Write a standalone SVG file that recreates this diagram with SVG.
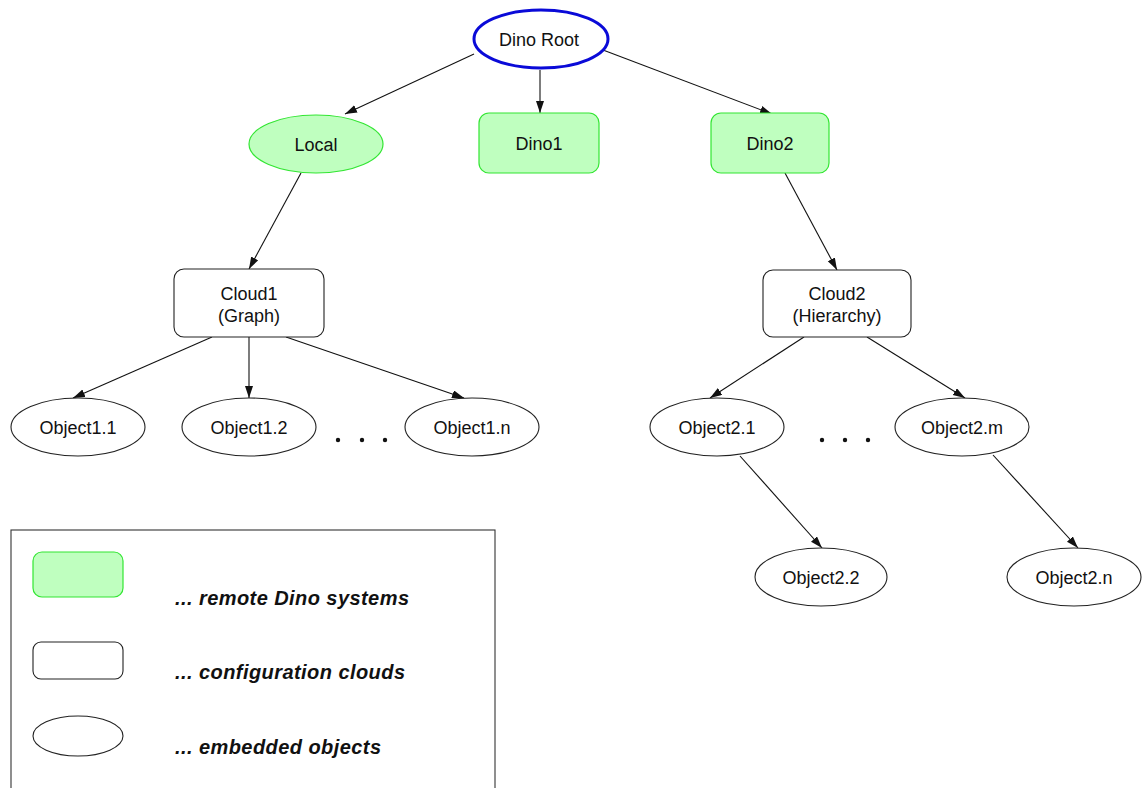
<svg xmlns="http://www.w3.org/2000/svg" width="1144" height="788" viewBox="0 0 1144 788">
  <style>
    .lbl { font-family: "Liberation Sans", Arial, sans-serif; font-size: 18px; fill: #111; text-anchor: middle; }
    .leg { font-family: "Liberation Sans", Arial, sans-serif; font-size: 20px; font-weight: bold; font-style: italic; fill: #111; }
    .remote { fill: #bfffbf; stroke: #33e633; stroke-width: 1.2; }
    .cloud { fill: #ffffff; stroke: #222; stroke-width: 1.1; }
    .obj { fill: #ffffff; stroke: #222; stroke-width: 1.1; }
    .root { fill: #ffffff; stroke: #0a0ad8; stroke-width: 3; }
    .edge { stroke: #111; stroke-width: 1.1; fill: none; marker-end: url(#arrow); }
    .dot { fill: #111; }
  </style>
  <defs>
    <marker id="arrow" markerUnits="userSpaceOnUse" markerWidth="13" markerHeight="9" refX="12" refY="4" orient="auto">
      <path d="M0,0 L12,4 L0,8 z" fill="#111"/>
    </marker>
  </defs>
  <rect width="1144" height="788" fill="#ffffff"/>

  <g id="connectors">
    <line class="edge" x1="474" y1="54" x2="345" y2="114"/>
    <line class="edge" x1="540" y1="70" x2="540" y2="113"/>
    <line class="edge" x1="603" y1="50" x2="772" y2="114"/>
    <line class="edge" x1="301" y1="173" x2="249" y2="269"/>
    <line class="edge" x1="785" y1="173" x2="837" y2="270"/>
    <line class="edge" x1="212" y1="337" x2="73" y2="398"/>
    <line class="edge" x1="249" y1="337" x2="249" y2="398"/>
    <line class="edge" x1="286" y1="337" x2="464" y2="398"/>
    <line class="edge" x1="804" y1="337" x2="710" y2="398"/>
    <line class="edge" x1="867" y1="337" x2="965" y2="398"/>
    <line class="edge" x1="740" y1="456" x2="822" y2="548"/>
    <line class="edge" x1="993" y1="455" x2="1078" y2="548"/>
  </g>

  <g id="dino-root">
    <ellipse class="root" cx="541" cy="39" rx="67" ry="29"/>
    <text class="lbl" x="539" y="46">Dino Root</text>
  </g>
  <g id="local">
    <ellipse class="remote" cx="316" cy="144" rx="67" ry="29"/>
    <text class="lbl" x="316" y="151">Local</text>
  </g>
  <g id="dino1">
    <rect class="remote" x="479" y="113" width="120" height="60" rx="10"/>
    <text class="lbl" x="539" y="150">Dino1</text>
  </g>
  <g id="dino2">
    <rect class="remote" x="711" y="113" width="118" height="60" rx="10"/>
    <text class="lbl" x="770" y="150">Dino2</text>
  </g>
  <g id="cloud1">
    <rect class="cloud" x="174" y="269" width="150" height="68" rx="10"/>
    <text class="lbl" x="249" y="300">Cloud1</text>
    <text class="lbl" x="249" y="322">(Graph)</text>
  </g>
  <g id="cloud2">
    <rect class="cloud" x="763" y="270" width="148" height="67" rx="10"/>
    <text class="lbl" x="837" y="300">Cloud2</text>
    <text class="lbl" x="837" y="322">(Hierarchy)</text>
  </g>
  <g id="object1-1">
    <ellipse class="obj" cx="78" cy="427" rx="67" ry="29"/>
    <text class="lbl" x="78" y="434">Object1.1</text>
  </g>
  <g id="object1-2">
    <ellipse class="obj" cx="249" cy="427" rx="67" ry="29"/>
    <text class="lbl" x="249" y="434">Object1.2</text>
  </g>
  <g id="object1-n">
    <ellipse class="obj" cx="472" cy="427" rx="67" ry="29"/>
    <text class="lbl" x="472" y="434">Object1.n</text>
  </g>
  <g id="dots1">
    <circle class="dot" cx="338" cy="440" r="2.2"/>
    <circle class="dot" cx="362" cy="440" r="2.2"/>
    <circle class="dot" cx="385" cy="440" r="2.2"/>
  </g>
  <g id="object2-1">
    <ellipse class="obj" cx="717" cy="427" rx="67" ry="29"/>
    <text class="lbl" x="717" y="434">Object2.1</text>
  </g>
  <g id="object2-m">
    <ellipse class="obj" cx="962" cy="427" rx="67" ry="29"/>
    <text class="lbl" x="962" y="434">Object2.m</text>
  </g>
  <g id="dots2">
    <circle class="dot" cx="822" cy="440" r="2.2"/>
    <circle class="dot" cx="845" cy="440" r="2.2"/>
    <circle class="dot" cx="868" cy="440" r="2.2"/>
  </g>
  <g id="object2-2">
    <ellipse class="obj" cx="821" cy="577" rx="66" ry="29"/>
    <text class="lbl" x="821" y="584">Object2.2</text>
  </g>
  <g id="object2-n">
    <ellipse class="obj" cx="1074" cy="577" rx="67" ry="29"/>
    <text class="lbl" x="1074" y="584">Object2.n</text>
  </g>

  <g id="legend">
    <rect x="11" y="530" width="484" height="280" fill="none" stroke="#333" stroke-width="1.1"/>
    <rect class="remote" x="33" y="552" width="90" height="45" rx="9"/>
    <text class="leg" x="175" y="605" textLength="234" lengthAdjust="spacing">... remote Dino systems</text>
    <rect class="cloud" x="33" y="642" width="90" height="37" rx="8"/>
    <text class="leg" x="175" y="679" textLength="230" lengthAdjust="spacing">... configuration clouds</text>
    <ellipse class="obj" cx="78" cy="736" rx="45" ry="20"/>
    <text class="leg" x="175" y="754" textLength="206" lengthAdjust="spacing">... embedded objects</text>
  </g>
</svg>
